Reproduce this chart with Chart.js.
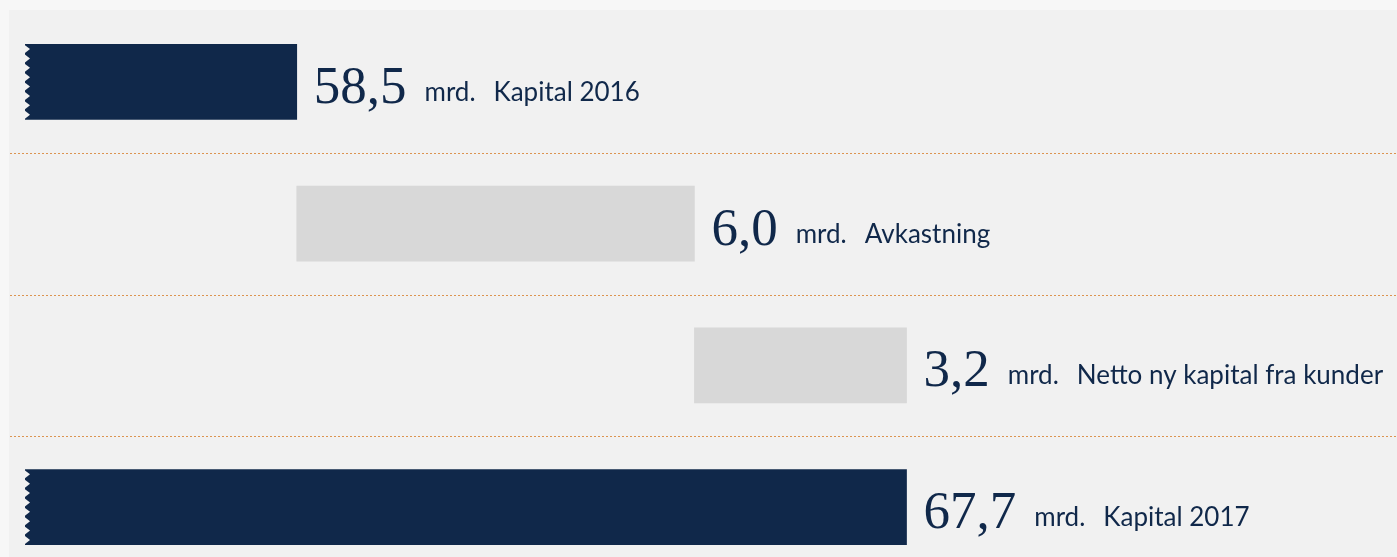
<!DOCTYPE html>
<html>
<head>
<meta charset="utf-8">
<script src="https://cdn.jsdelivr.net/npm/chart.js@4"></script>
<style>
    body { margin: 0; overflow: hidden; background: #f7f7f7; }
    #wrap { width: 1397px; height: 580px; }
</style>
</head>
<body>
<div id="wrap"><canvas id="waterfall-chart"></canvas></div>
<script>
// data
const categories = ['Kapital 2016', 'Avkastning', 'Netto ny kapital fra kunder', 'Kapital 2017'];
const values = [58.5, 6.0, 3.2, 67.7];
const kinds = ['total', 'step', 'step', 'total'];
const unit = 'mrd.';
const axisMin = 54.4;   // broken axis, drawn with zigzag edge
const axisMax = 75.1;

const navy = '#10284a';
const lightBar = '#d8d8d8';
const panel = '#f1f1f1';

// floating bars: totals start at the axis break, steps stack on the running sum
let running = 0;
const ranges = values.map((v, i) => {
    if (kinds[i] === 'total') {
        running = v;
        return [axisMin, v];
    }
    const start = running;
    running += v;
    return [start, running];
});

const panelPlugin = {
    id: 'panel',
    beforeDraw(chart) {
        const ctx = chart.ctx;
        ctx.save();
        ctx.fillStyle = '#f7f7f7';
        ctx.fillRect(0, 0, chart.width, chart.height);
        ctx.fillStyle = panel;
        ctx.fillRect(9, 10, chart.width - 9, chart.height - 10);

        // dotted separators between rows
        const y = chart.scales.y;
        ctx.fillStyle = '#dc9450';
        for (let i = 0; i < categories.length - 1; i++) {
            const py = Math.round((y.getPixelForValue(i) + y.getPixelForValue(i + 1)) / 2);
            for (let px = 10; px < chart.width; px += 4) {
                ctx.fillRect(px, py, 2, 1);
            }
        }
        ctx.restore();
    }
};

const labelPlugin = {
    id: 'barLabels',
    afterDatasetsDraw(chart) {
        const ctx = chart.ctx;
        const meta = chart.getDatasetMeta(0);
        ctx.save();
        meta.data.forEach((bar, i) => {
            const half = bar.height / 2;
            // zigzag cut on bars that start at the axis break
            if (kinds[i] === 'total') {
                const left = bar.base;
                const top = bar.y - half;
                const step = bar.height / 8;
                ctx.fillStyle = panel;
                for (let k = 0; k < 8; k++) {
                    const ty = top + k * step;
                    ctx.beginPath();
                    ctx.moveTo(left - 1, ty);
                    ctx.lineTo(left + 5, ty + step / 2);
                    ctx.lineTo(left - 1, ty + step);
                    ctx.closePath();
                    ctx.fill();
                }
            }

            const baseline = bar.y + 21;
            let x = bar.x + 17;
            ctx.fillStyle = navy;
            ctx.textBaseline = 'alphabetic';
            ctx.textAlign = 'left';

            const num = values[i].toFixed(1).replace('.', ',');
            ctx.font = '53px "Liberation Serif", serif';
            ctx.fillText(num, x, baseline);
            x += ctx.measureText(num).width + 18;

            ctx.font = '26px Lato, sans-serif';
            ctx.fillText(unit, x, baseline - 2);
            x += ctx.measureText(unit).width + 18;
            ctx.fillText(categories[i], x, baseline - 2);
        });
        ctx.restore();
    }
};

new Chart(document.getElementById('waterfall-chart'), {
    type: 'bar',
    data: {
        labels: categories,
        datasets: [{
            data: ranges,
            backgroundColor: kinds.map(k => k === 'total' ? navy : lightBar),
            borderWidth: 0,
            borderSkipped: false,
            barThickness: 75
        }]
    },
    options: {
        indexAxis: 'y',
        responsive: true,
        maintainAspectRatio: false,
        animation: false,
        layout: { padding: { left: 25, top: 11, right: 0, bottom: 2 } },
        plugins: {
            legend: { display: false },
            tooltip: { enabled: false }
        },
        scales: {
            x: {
                display: false,
                min: axisMin,
                max: axisMax
            },
            y: {
                display: true,
                grid: { display: false },
                border: { display: false },
                ticks: { display: false },
                afterFit(scale) { scale.width = 0; }
            }
        }
    },
    plugins: [panelPlugin, labelPlugin]
});
</script>
</body>
</html>
